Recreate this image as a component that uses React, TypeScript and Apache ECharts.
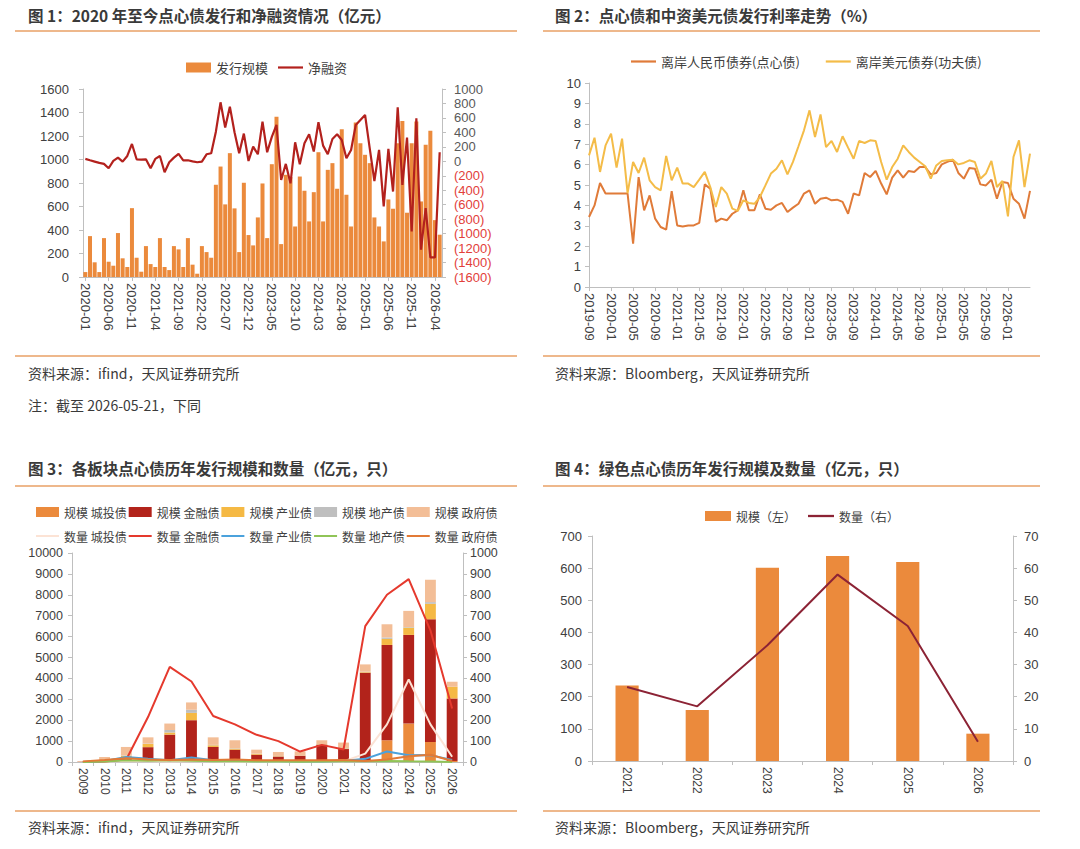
import React, { useEffect, useRef } from "react";
import * as echarts from "echarts";

const FONT = "'Liberation Sans', 'Noto Sans CJK SC', sans-serif";
const CJK = "'Noto Sans CJK SC', 'Liberation Sans', sans-serif";
const AXIS_COLOR = "#BFBFBF";
const LABEL_COLOR = "#404040";
const RULE_COLOR = "#E9A066";
const LINE_ICON = "path://M0,0 L25,0 L25,2.2 L0,2.2 Z";

function monthRange(start: string, end: string): string[] {
  const [sy, sm] = start.split("-").map(Number);
  const [ey, em] = end.split("-").map(Number);
  const out: string[] = [];
  let y = sy;
  let m = sm;
  while (y < ey || (y === ey && m <= em)) {
    out.push(`${y}-${String(m).padStart(2, "0")}`);
    m++;
    if (m > 12) {
      m = 1;
      y++;
    }
  }
  return out;
}

// ---------- Panel 1: issuance & net financing (monthly) ----------
const p1Months = monthRange("2020-01", "2026-05");
const p1Issuance = [
  42, 348, 125, 42, 331, 130, 96, 374, 159, 85, 586, 164, 45, 263, 110, 85, 331, 85, 59, 263,
  235, 85, 331, 105, 28, 263, 212, 164, 785, 940, 618, 1054, 584, 212, 802, 357, 269, 507, 796, 331,
  960, 1363, 280, 870, 850, 430, 855, 734, 473, 722, 1062, 473, 912, 969, 751, 1258, 700, 430, 1314, 1139,
  1040, 969, 507, 430, 303, 660, 581, 1139, 1328, 547, 1139, 1323, 643, 1125, 1244, 484, 360,
];
const p1NetFinancing = [
  33, 14, -4, -22, -36, -96, 5, 51, -4, 74, 240, 28, 23, 28, -96, 33, 74, -151, -13, 51,
  102, 14, 14, 0, -13, -4, 97, 111, 410, 816, 466, 756, 402, 111, 383, 5, 203, 97, 549, 125,
  337, 503, -258, -36, -304, 263, -40, 249, 374, 135, 540, 217, 97, 309, 374, 295, 42, 157, 503, 572,
  641, 180, -272, 157, -624, 171, -418, 747, -326, 328, -970, 595, -1223, -648, -1329, -1329, 125,
];

// ---------- Panel 2: issuance rates (monthly) ----------
const p2Months = monthRange("2019-09", "2026-05");
const p2LastLabelIndex = 76; // 2026-01
const p2Cnh = [
  3.43, 4.0, 5.1, 4.58, 4.58, 4.58, 4.58, 4.58, 2.12, 5.39, 3.76, 4.49, 3.35, 2.94, 2.81, 4.7, 3.02, 2.97, 3.02, 3.02,
  3.14, 5.03, 4.82, 3.19, 3.35, 3.27, 3.59, 3.76, 4.74, 3.76, 3.76, 4.54, 3.84, 3.79, 4.0, 4.12, 3.68, 3.89, 4.08, 4.58,
  4.74, 4.08, 4.33, 4.38, 4.25, 4.28, 4.17, 3.59, 4.58, 4.49, 5.59, 5.39, 5.69, 5.07, 4.54, 5.36, 5.72, 5.36, 5.69, 5.64,
  5.88, 5.88, 5.52, 5.59, 6.01, 6.13, 6.24, 5.59, 5.31, 5.83, 5.8, 5.03, 4.98, 5.26, 4.33, 5.15, 5.1, 4.33, 4.08, 3.35,
  4.71,
];
const p2Usd = [
  6.45, 7.32, 5.64, 6.94, 7.52, 5.85, 7.27, 4.6, 6.13, 5.59, 6.34, 5.23, 4.9, 4.74, 6.42, 5.23, 5.85, 5.07, 5.07, 4.9,
  5.26, 5.64, 4.9, 3.92, 4.9, 4.58, 3.84, 3.73, 4.25, 4.12, 4.08, 4.41, 4.98, 5.56, 5.8, 6.21, 5.52, 6.13, 6.9, 7.68,
  8.66, 7.35, 8.46, 6.86, 7.16, 6.62, 7.39, 6.83, 6.29, 7.16, 7.06, 7.19, 7.16, 6.13, 5.26, 5.88, 6.29, 6.94, 6.62, 6.34,
  6.13, 5.92, 5.31, 5.96, 6.18, 6.21, 6.24, 6.01, 6.08, 6.21, 6.13, 5.31, 5.56, 6.18, 4.9, 5.2, 3.46, 6.37, 7.19, 4.9,
  6.54,
];

// ---------- Panel 3: by sector, yearly ----------
const p3Years = ["2009", "2010", "2011", "2012", "2013", "2014", "2015", "2016", "2017", "2018", "2019", "2020", "2021", "2022", "2023", "2024", "2025", "2026"];
const p3ScaleChengtou = [10, 30, 100, 30, 20, 50, 30, 20, 20, 10, 10, 20, 20, 40, 1040, 1840, 960, 50];
const p3ScaleJinrong = [10, 30, 50, 680, 1290, 1950, 690, 570, 330, 250, 290, 810, 600, 4230, 4560, 4240, 5870, 2990];
const p3ScaleChanye = [0, 10, 150, 150, 100, 350, 80, 50, 40, 20, 10, 20, 30, 30, 290, 350, 740, 560];
const p3ScaleDichan = [0, 0, 20, 20, 120, 150, 20, 20, 10, 10, 0, 10, 20, 20, 70, 30, 80, 0];
const p3ScaleZhengfu = [20, 170, 400, 300, 310, 350, 360, 380, 190, 190, 200, 180, 260, 350, 630, 770, 1070, 240];
const p3CountChengtou = [1, 2, 5, 3, 2, 4, 3, 2, 2, 1, 1, 2, 3, 40, 180, 395, 180, 25];
const p3CountJinrong = [0, 2, 12, 215, 455, 385, 220, 180, 130, 100, 50, 82, 60, 650, 800, 875, 630, 256];
const p3CountChanye = [0, 5, 24, 15, 8, 22, 8, 6, 4, 3, 2, 2, 5, 15, 50, 32, 33, 10];
const p3CountDichan = [0, 2, 8, 6, 8, 6, 4, 3, 2, 2, 1, 2, 3, 3, 5, 3, 2, 0];
const p3CountZhengfu = [3, 10, 18, 12, 10, 12, 10, 12, 8, 8, 8, 8, 10, 5, 12, 28, 35, 5];

// ---------- Panel 4: green bonds ----------
const p4Years = ["2021", "2022", "2023", "2024", "2025", "2026"];
const p4Scale = [235, 159, 601, 638, 619, 85];
const p4Count = [23, 17, 36, 58, 42, 6];

const C_ORANGE = "#EB8A3C";
const C_DARKRED = "#B2231B";
const C_YELLOW = "#F5B944";
const C_GRAY = "#BFBFBF";
const C_PEACH = "#F3BE97";

const axisLine = { show: true, lineStyle: { color: AXIS_COLOR, width: 1 } };
const axisTick = { show: true, length: 4, inside: false, lineStyle: { color: AXIS_COLOR } };
const plain = (v: number) => String(v);

function valueAxis(gridIndex: number, min: number, max: number, interval: number, position: string, fontSize: number, margin: number) {
  return {
    type: "value",
    gridIndex,
    position,
    min,
    max,
    interval,
    splitLine: { show: false },
    axisLine,
    axisTick,
    axisLabel: { fontSize, color: LABEL_COLOR, fontFamily: FONT, margin, formatter: plain },
  };
}

function catAxis(gridIndex: number, data: string[], fontSize: number, interval: any, boundaryGap: boolean, alignWithLabel: boolean) {
  return {
    type: "category",
    gridIndex,
    data,
    boundaryGap,
    axisLine,
    axisTick: { ...axisTick, interval, alignWithLabel },
    axisLabel: { interval, rotate: -90, fontSize, color: LABEL_COLOR, fontFamily: FONT, margin: 6 },
    splitLine: { show: false },
  };
}

function text(str: string, left: number, centerY: number, size: number, bold: boolean) {
  return {
    type: "text",
    left,
    top: centerY - size * 0.62,
    style: { text: str, fill: "#3A3A3A", fontSize: size, fontWeight: bold ? "bold" : "normal", fontFamily: CJK },
  };
}

function rule(x1: number, x2: number, y: number) {
  return { type: "line", shape: { x1, y1: y, x2, y2: y }, style: { stroke: RULE_COLOR, lineWidth: 1.5 } };
}

const legendText = (size: number) => ({ fontSize: size, color: LABEL_COLOR, fontFamily: CJK });
const barItem = (name: string) => ({ name, icon: "rect" });
const lineItem = (name: string) => ({ name, icon: LINE_ICON });

const lineSeries = (name: string, data: number[], color: string, xAxisIndex: number, yAxisIndex: number, width = 2) => ({
  type: "line",
  name,
  data,
  xAxisIndex,
  yAxisIndex,
  symbol: "none",
  showSymbol: false,
  lineStyle: { color, width },
  itemStyle: { color },
});

const option: any = {
  animation: false,
  backgroundColor: "#ffffff",
  textStyle: { fontFamily: FONT },
  grid: [
    { left: 83, top: 89, width: 359, height: 188, outerBoundsMode: "none" },
    { left: 589, top: 83, width: 441, height: 204, outerBoundsMode: "none" },
    { left: 72, top: 553, width: 391, height: 209, outerBoundsMode: "none" },
    { left: 592, top: 536, width: 421, height: 225, outerBoundsMode: "none" },
  ],
  legend: [
    {
      data: [barItem("发行规模"), lineItem("净融资")],
      left: 181, top: 56, itemWidth: 25, itemHeight: 10, itemGap: 10,
      textStyle: legendText(13),
    },
    {
      data: [lineItem("离岸人民币债券(点心债)"), lineItem("离岸美元债券(功夫债)")],
      left: 626, top: 50, itemWidth: 25, itemHeight: 10, itemGap: 26,
      textStyle: legendText(13),
    },
    {
      data: ["规模 城投债", "规模 金融债", "规模 产业债", "规模 地产债", "规模 政府债"].map(barItem),
      left: 31, top: 501, itemWidth: 23, itemHeight: 10, itemGap: 2,
      textStyle: legendText(12),
    },
    {
      data: ["数量 城投债", "数量 金融债", "数量 产业债", "数量 地产债", "数量 政府债"].map(lineItem),
      left: 31, top: 525, itemWidth: 23, itemHeight: 10, itemGap: 2,
      textStyle: legendText(12),
    },
    {
      data: [barItem("规模（左）"), lineItem("数量（右）")],
      left: 700, top: 505, itemWidth: 26, itemHeight: 10, itemGap: 12,
      textStyle: legendText(12),
    },
  ],
  xAxis: [
    catAxis(0, p1Months, 13, 4, true, true),
    catAxis(1, p2Months, 13, (i: number) => i % 4 === 0 && i <= p2LastLabelIndex, false, true),
    catAxis(2, p3Years, 12, 0, true, false),
    catAxis(3, p4Years, 12, 0, true, false),
  ],
  yAxis: [
    valueAxis(0, 0, 1600, 200, "left", 13, 14),
    {
      ...valueAxis(0, -1600, 1000, 200, "right", 13, 12),
      axisLabel: {
        margin: 12,
        formatter: (v: number) => (v < 0 ? `{neg|(${-v})}` : `{pos|${v}}`),
        rich: {
          neg: { color: "#E2403A", fontSize: 13, fontFamily: FONT },
          pos: { color: "#595959", fontSize: 13, fontFamily: FONT },
        },
      },
    },
    valueAxis(1, 0, 10, 1, "left", 13, 8),
    valueAxis(2, 0, 10000, 1000, "left", 12.5, 9),
    valueAxis(2, 0, 1000, 100, "right", 12.5, 7),
    valueAxis(3, 0, 700, 100, "left", 13, 10),
    valueAxis(3, 0, 70, 10, "right", 13, 11),
  ],
  series: [
    {
      type: "bar", name: "发行规模", data: p1Issuance, xAxisIndex: 0, yAxisIndex: 0,
      barCategoryGap: "14%", itemStyle: { color: C_ORANGE },
    },
    lineSeries("净融资", p1NetFinancing, "#B3211D", 0, 1, 2.2),

    lineSeries("离岸人民币债券(点心债)", p2Cnh, "#E07B39", 1, 2, 2),
    lineSeries("离岸美元债券(功夫债)", p2Usd, "#F4BC48", 1, 2, 2),

    { type: "bar", name: "规模 城投债", data: p3ScaleChengtou, xAxisIndex: 2, yAxisIndex: 3, stack: "p3", barWidth: "50%", itemStyle: { color: C_ORANGE } },
    { type: "bar", name: "规模 金融债", data: p3ScaleJinrong, xAxisIndex: 2, yAxisIndex: 3, stack: "p3", barWidth: "50%", itemStyle: { color: C_DARKRED } },
    { type: "bar", name: "规模 产业债", data: p3ScaleChanye, xAxisIndex: 2, yAxisIndex: 3, stack: "p3", barWidth: "50%", itemStyle: { color: C_YELLOW } },
    { type: "bar", name: "规模 地产债", data: p3ScaleDichan, xAxisIndex: 2, yAxisIndex: 3, stack: "p3", barWidth: "50%", itemStyle: { color: C_GRAY } },
    { type: "bar", name: "规模 政府债", data: p3ScaleZhengfu, xAxisIndex: 2, yAxisIndex: 3, stack: "p3", barWidth: "50%", itemStyle: { color: C_PEACH } },
    lineSeries("数量 城投债", p3CountChengtou, "#FCE3D5", 2, 4, 2),
    lineSeries("数量 金融债", p3CountJinrong, "#E5392D", 2, 4, 2),
    lineSeries("数量 产业债", p3CountChanye, "#4BA2DC", 2, 4, 2),
    lineSeries("数量 地产债", p3CountDichan, "#90C457", 2, 4, 2),
    lineSeries("数量 政府债", p3CountZhengfu, "#E27A36", 2, 4, 2),

    { type: "bar", name: "规模（左）", data: p4Scale, xAxisIndex: 3, yAxisIndex: 5, barWidth: "33%", itemStyle: { color: C_ORANGE } },
    lineSeries("数量（右）", p4Count, "#8C2335", 3, 6, 2),
  ],
  graphic: [
    text("图 1：2020 年至今点心债发行和净融资情况（亿元）", 28, 16.5, 15.5, true),
    rule(15, 517, 31),
    rule(15, 517, 356),
    text("资料来源：ifind，天风证券研究所", 28, 375, 14, false),
    text("注：截至 2026-05-21，下同", 28, 407, 14, false),

    text("图 2：点心债和中资美元债发行利率走势（%）", 555, 16.5, 15.5, true),
    rule(543, 1040, 31),
    rule(543, 1040, 356),
    text("资料来源：Bloomberg，天风证券研究所", 555, 375, 14, false),

    text("图 3：各板块点心债历年发行规模和数量（亿元，只）", 28, 470, 15.5, true),
    rule(15, 517, 486),
    rule(15, 517, 811),
    text("资料来源：ifind，天风证券研究所", 28, 829, 14, false),

    text("图 4：绿色点心债历年发行规模及数量（亿元，只）", 555, 470, 15.5, true),
    rule(543, 1040, 486),
    rule(543, 1040, 811),
    text("资料来源：Bloomberg，天风证券研究所", 555, 829, 14, false),
  ],
};

export default function App() {
  const ref = useRef<HTMLDivElement>(null);
  useEffect(() => {
    if (!ref.current) return;
    const chart = echarts.init(ref.current, null, { renderer: "svg" });
    chart.setOption(option);
    return () => chart.dispose();
  }, []);
  return (
    <div
      ref={ref}
      style={{ position: "absolute", left: 0, top: 0, width: 1080, height: 849, background: "#ffffff" }}
    />
  );
}
